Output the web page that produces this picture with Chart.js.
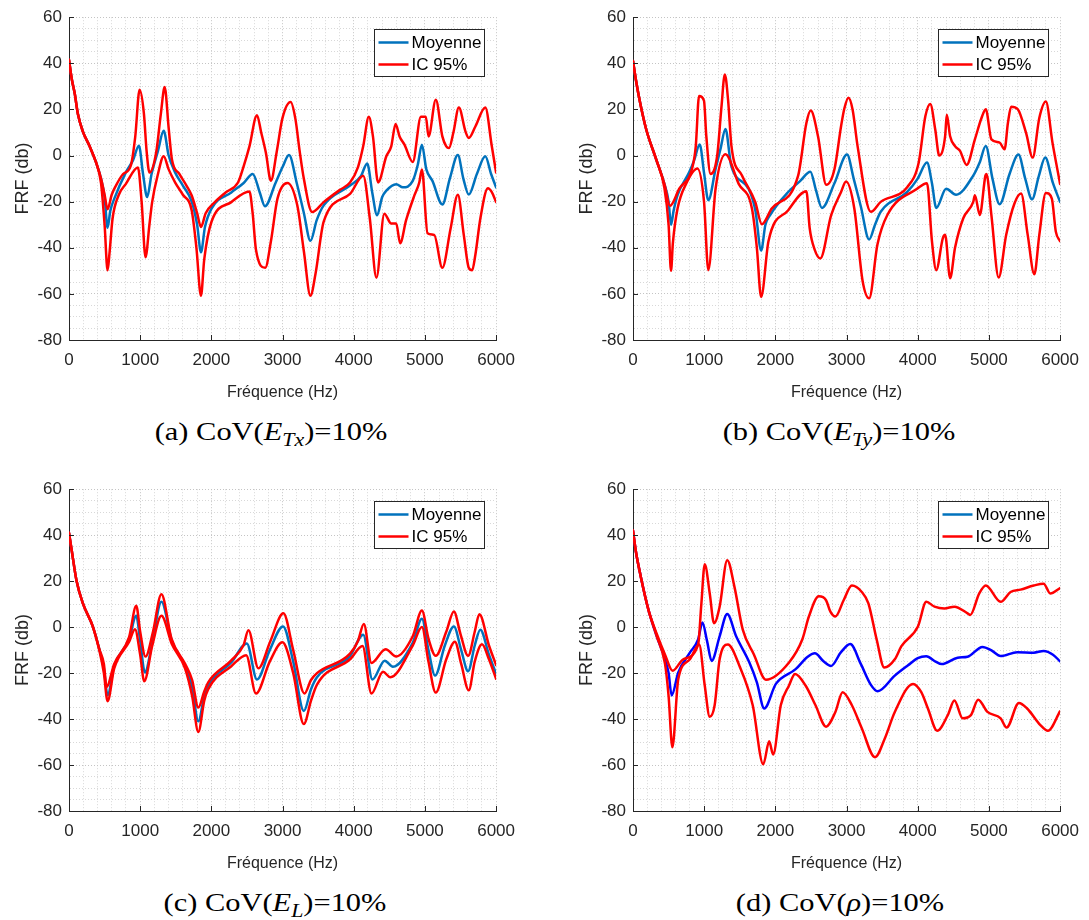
<!DOCTYPE html>
<html>
<head>
<meta charset="utf-8">
<script src="https://cdn.jsdelivr.net/npm/chart.js@4.4.1/dist/chart.umd.min.js"></script>
<style>
html,body{margin:0;padding:0;background:#fff;}
#fig{position:relative;width:1089px;height:920px;overflow:hidden;background:#fff;}
canvas{position:absolute;}
.cap{position:absolute;font-family:'Liberation Serif','Times New Roman',serif;font-size:26px;color:#000;white-space:nowrap;transform:translate(-50%,-50%) scaleX(1.17);}
.cap sub{font-size:0.72em;vertical-align:-0.3em;line-height:0;}
</style>
</head>
<body>
<div id="fig">
<canvas id="ca" width="525" height="410" style="left:0px;top:0px;width:525px;height:410px"></canvas>
<canvas id="cb" width="525" height="410" style="left:564px;top:0px;width:525px;height:410px"></canvas>
<canvas id="cc" width="525" height="409" style="left:0px;top:472px;width:525px;height:409px"></canvas>
<canvas id="cd" width="525" height="409" style="left:564px;top:472px;width:525px;height:409px"></canvas>
<div class="cap" style="left:271px;top:432px">(a) CoV(<i>E</i><sub><i>Tx</i></sub>)=10%</div>
<div class="cap" style="left:839px;top:432px">(b) CoV(<i>E</i><sub><i>Ty</i></sub>)=10%</div>
<div class="cap" style="left:275px;top:903px">(c) CoV(<i>E</i><sub><i>L</i></sub>)=10%</div>
<div class="cap" style="left:840px;top:903px">(d) CoV(<i>ρ</i>)=10%</div>
</div>
<script>
// ---------- axes / labels ----------
const xTicks = [0, 1000, 2000, 3000, 4000, 5000, 6000];
const yTicks = [-80, -60, -40, -20, 0, 20, 40, 60];
const xTitle = 'Fréquence (Hz)';
const yTitle = 'FRF (db)';
const legendLabels = ['Moyenne', 'IC 95%'];

// ---------- (a) CoV(E_Tx) : [Hz, dB] ----------
const aMean = [[0,41.5],[40,33],[80,27],[125,18],[195,10.4],[290,4],[380,-3],[450,-10],[500,-18],[542,-31.3],[580,-24],[635,-18.8],[797,-7.4],[900,-2],[982,4.3],[1040,-8],[1098,-18],[1160,-8],[1250,2],[1330,10.7],[1400,0],[1492,-7.4],[1600,-13],[1724,-20],[1800,-30],[1854,-41.9],[1910,-31],[2002,-23],[2280,-16],[2450,-12],[2581,-8],[2680,-16],[2753,-22],[2900,-12],[3000,-5],[3091,0.2],[3200,-12],[3300,-25],[3392,-37],[3480,-28],[3578,-21.6],[3948,-13],[4100,-9],[4189,-3.4],[4260,-16],[4328,-25.9],[4400,-18],[4458,-15.2],[4597,-12.4],[4690,-13.8],[4829,-11],[4900,-4],[4958,4.7],[5020,-6],[5106,-11],[5245,-21.2],[5350,-10],[5463,0.2],[5540,-10],[5616,-16.9],[5730,-8],[5848,-0.3],[5930,-8],[6000,-13.8]];
const aUp = [[0,41.5],[40,33],[80,27],[125,18],[195,10.4],[290,4],[380,-3],[450,-10],[500,-17],[542,-23.3],[600,-17],[660,-13],[760,-8],[867,-4.5],[930,8],[992,28.5],[1052,18.3],[1090,2],[1131,-7.4],[1224,1.2],[1290,18],[1344,29.7],[1400,12],[1446,-1.7],[1550,-8],[1650,-13],[1724,-17.3],[1800,-25],[1854,-31],[1920,-25],[2049,-20.2],[2200,-16],[2374,-11.7],[2450,-5],[2535,4],[2641,17.5],[2700,10],[2766,1.2],[2836,-10.9],[2920,2],[2998,16.1],[3114,23.2],[3180,16],[3240,2],[3300,-10.2],[3415,-24.5],[3578,-20.2],[3800,-15],[3948,-11.7],[4060,-5],[4133,4],[4212,16.8],[4270,8.3],[4342,-11.7],[4458,-0.3],[4527,4],[4588,13.7],[4644,8.3],[4713,4.7],[4829,-2.8],[4944,16.8],[5013,16.8],[5051,8.3],[5153,24.2],[5245,8.3],[5300,4],[5338,3.3],[5400,10],[5477,20.8],[5570,10.4],[5616,7.6],[5709,12.6],[5848,20.8],[5940,4],[6000,-7.4]];
const aLo = [[0,41.5],[40,33],[80,27],[125,18],[195,10.4],[290,4],[380,-3],[450,-12],[500,-30],[542,-49.8],[570,-42],[612,-27.3],[700,-17],[797,-12.4],[968,-5.2],[1020,-20],[1075,-44.1],[1130,-30],[1168,-20.2],[1250,-8],[1330,-0.3],[1400,-6],[1492,-11.7],[1600,-17],[1724,-23.8],[1790,-40],[1854,-60.8],[1900,-45],[2002,-28.7],[2280,-20.2],[2535,-15.6],[2580,-25],[2627,-40.9],[2757,-48.7],[2836,-37.3],[2928,-18.8],[3068,-11.9],[3207,-21.6],[3300,-41.6],[3392,-60.8],[3462,-51.5],[3578,-28.7],[3948,-16.6],[4133,-8.8],[4226,-27.3],[4319,-53],[4430,-25.2],[4527,-29.5],[4597,-29.5],[4652,-38],[4736,-28],[4852,-17.3],[4921,-11.7],[4958,-6],[5037,-33.7],[5130,-34.4],[5245,-48.7],[5361,-31.6],[5463,-17],[5546,-34.4],[5616,-48.7],[5663,-49.8],[5709,-43],[5779,-27.3],[5885,-14.2],[5940,-15.9],[6000,-20.2]];

// ---------- (b) CoV(E_Ty) ----------
const bMean = [[0,41],[40,33],[93,24],[186,11.3],[325,-1.6],[441,-12.3],[500,-20],[534,-30],[570,-24],[626,-17.2],[789,-7.3],[860,-2],[937,4.8],[1000,-8],[1058,-19.4],[1160,-5.8],[1230,3],[1299,11.5],[1380,-4.4],[1624,-14.4],[1720,-24],[1800,-41.2],[1860,-30],[1926,-25.8],[2181,-15.8],[2350,-11],[2492,-7],[2570,-15],[2654,-22.7],[2830,-12],[3007,0.4],[3100,-10],[3200,-22],[3318,-36.4],[3400,-30],[3480,-24.4],[3852,-15.8],[4000,-10],[4130,-3],[4200,-12],[4260,-22.7],[4399,-14.4],[4538,-17],[4780,-8.7],[4870,-3],[4956,4.1],[5050,-10],[5151,-21.1],[5290,-8],[5415,0.4],[5510,-10],[5606,-19],[5700,-9],[5791,-0.9],[5900,-12],[6000,-20.1]];
const bUp = [[0,41],[40,33],[93,24],[186,11.3],[325,-1.6],[441,-12.3],[520,-21.8],[650,-14.4],[835,-5.1],[882,4.1],[928,25.8],[997,23.8],[1030,8.4],[1090,-8],[1183,0],[1243,21.2],[1290,35.2],[1336,24],[1383,4.1],[1531,-8.7],[1717,-20.1],[1810,-29.8],[1949,-23],[2320,-8.7],[2436,14.1],[2497,19.5],[2599,8.4],[2715,-12.7],[2831,-5.8],[2923,12.7],[2970,20.5],[3026,25.1],[3086,19.8],[3155,4.1],[3341,-24.4],[3480,-20.1],[3852,-13.7],[4014,-3],[4107,17],[4176,22.4],[4246,11.3],[4302,0],[4385,8.4],[4408,17.7],[4455,8.4],[4524,4.1],[4594,2],[4687,-4.1],[4803,7],[4896,16.3],[4956,20.1],[5035,7],[5151,5.6],[5220,2.7],[5267,14.1],[5313,21.2],[5406,20.1],[5522,9.8],[5615,-0.9],[5708,16.3],[5800,23.4],[5893,5.6],[6000,-12.3]];
const bLo = [[0,41],[40,33],[93,24],[186,11.3],[325,-1.6],[441,-14],[500,-30],[534,-50],[560,-38],[626,-23],[750,-12],[905,-5.6],[998,-20.1],[1058,-49.7],[1160,-14.4],[1299,0.6],[1485,-12.3],[1671,-23],[1740,-40],[1800,-61.3],[1903,-37.2],[2181,-23.7],[2436,-15.5],[2482,-31.5],[2552,-40.8],[2631,-44.6],[2784,-25.8],[2923,-15.8],[2993,-11.3],[3109,-23],[3225,-54.3],[3318,-61.9],[3434,-38.6],[3573,-25.8],[3991,-14.4],[4130,-12],[4200,-37.2],[4260,-49.7],[4353,-35.8],[4385,-34.4],[4455,-53.2],[4524,-40],[4640,-27.2],[4780,-20.1],[4803,-17.2],[4872,-25.8],[4951,-8.7],[4965,-8],[5035,-25.8],[5137,-52.9],[5243,-34.4],[5359,-20.8],[5452,-16.5],[5545,-34.4],[5638,-51.5],[5708,-34.4],[5800,-16.2],[5884,-18.7],[5940,-33],[6000,-37.2]];

// ---------- (c) CoV(E_L) ----------
const cMean = [[0,41],[40,33],[105,20.3],[195,10.3],[334,0.3],[426,-9.6],[490,-18],[542,-29.6],[635,-16.8],[843,-5.4],[945,4.9],[1000,-6],[1066,-19.7],[1170,-6.8],[1298,11],[1446,-6.1],[1631,-16.8],[1730,-26],[1817,-41],[1900,-30],[1956,-25.3],[2280,-15.4],[2498,-7.1],[2641,-22.8],[2820,-10],[3007,0.3],[3150,-15],[3299,-36.5],[3400,-27],[3484,-21.8],[3948,-12.6],[4133,-3.3],[4263,-22.8],[4435,-14.6],[4550,-17.2],[4829,-6.8],[4958,3.6],[5050,-10],[5143,-21.1],[5280,-8],[5407,0.3],[5510,-10],[5607,-19.2],[5700,-8],[5778,-1.1],[5900,-12],[6000,-20.3]];
const cUp = [[0,41],[40,33],[105,20.3],[195,10.3],[334,0.3],[426,-9.6],[490,-16],[528,-26],[635,-16],[843,-4.5],[945,9.3],[1000,-2],[1075,-12.8],[1180,-2],[1298,14.3],[1440,-5],[1631,-16],[1730,-23],[1817,-35],[1900,-28],[1956,-24],[2280,-14.5],[2450,-8],[2521,-1.4],[2660,-17.9],[2830,-6],[3012,6],[3150,-10],[3308,-28.9],[3400,-23],[3484,-20],[3948,-11.5],[4060,-6],[4142,1.4],[4249,-15.6],[4448,-9.6],[4597,-12.8],[4829,-4],[4958,7.2],[5050,-5],[5152,-12.5],[5300,-2],[5407,6.8],[5500,-3],[5607,-12.5],[5700,-2],[5765,5.6],[5900,-8],[6000,-16.5]];
const cLo = [[0,41],[40,33],[105,20.3],[195,10.3],[334,0.3],[426,-10],[490,-20],[542,-32.2],[635,-18],[843,-6.5],[927,-0.9],[1000,-12],[1057,-23.6],[1170,-8],[1298,4.9],[1446,-7.5],[1631,-18],[1730,-30],[1817,-45.6],[1900,-32],[1956,-27],[2280,-17],[2489,-12.2],[2627,-28.9],[2820,-15],[2998,-6.6],[3150,-20],[3299,-42.2],[3400,-32],[3484,-25],[3948,-14],[4124,-8.2],[4249,-28.9],[4411,-19.4],[4513,-21.8],[4829,-8],[4958,0],[5050,-15],[5152,-28.5],[5300,-14],[5421,-6.4],[5510,-16],[5616,-27.5],[5700,-15],[5802,-7.5],[5900,-14],[6000,-22.5]];

// ---------- (d) CoV(rho) ----------
const dMean = [[0,42],[40,33],[102,23],[218,7.4],[334,-4],[450,-14],[500,-20],[543,-29.7],[636,-19.7],[799,-11.1],[915,-5.4],[975,2],[1040,-6],[1105,-14.7],[1217,-4],[1324,5.7],[1449,-4],[1635,-15.4],[1740,-24],[1844,-35.4],[2007,-24.7],[2285,-18.3],[2450,-13],[2555,-11.4],[2680,-15],[2782,-16.9],[2920,-11],[3052,-7.4],[3200,-16],[3340,-25],[3437,-27.9],[3678,-21.1],[3864,-16.6],[4000,-13.5],[4120,-12.7],[4250,-15],[4338,-16.1],[4561,-13.3],[4700,-12.9],[4910,-8.6],[5030,-10],[5165,-12.6],[5397,-10.9],[5630,-11.1],[5769,-10.4],[5900,-12],[6000,-14.9]];
const dUp = [[0,42],[40,33],[102,23],[218,7.4],[334,-3],[450,-12],[557,-19],[706,-14],[915,-7.6],[960,10],[1008,27.4],[1078,14.6],[1138,1.7],[1217,8.9],[1324,29.1],[1426,17.4],[1542,-1.1],[1700,-12],[1867,-22.9],[2192,-15.4],[2378,-5.4],[2471,4.6],[2610,13.4],[2712,11.7],[2773,6.7],[2843,4.6],[2959,11.7],[3075,18.1],[3214,15.3],[3307,10.3],[3423,-5.4],[3530,-17.6],[3678,-14],[3771,-8.3],[4003,0.3],[4120,11],[4236,8.9],[4375,8.1],[4515,8.9],[4700,6],[4738,5.3],[4863,14.6],[4956,18.1],[5165,11],[5304,15.3],[5444,16.3],[5630,18.1],[5769,18.9],[5862,14.6],[6000,17]];
const dLo = [[0,42],[40,33],[102,23],[218,7.4],[334,-4],[450,-16],[500,-30],[553,-52.3],[636,-22.6],[799,-14],[929,-7.6],[1008,-25.4],[1078,-39],[1147,-34],[1217,-14],[1333,-7.6],[1496,-16.9],[1682,-34],[1830,-59.7],[1913,-49.7],[1969,-55.4],[2076,-34],[2192,-25.4],[2276,-20.4],[2424,-25.4],[2564,-34],[2712,-43.3],[2843,-36.9],[2945,-28.3],[3075,-34],[3214,-44],[3400,-56.6],[3539,-48.3],[3678,-36.9],[3934,-24.7],[4050,-28.3],[4143,-35.4],[4273,-45.1],[4422,-38.3],[4515,-31.9],[4631,-39.7],[4747,-38.3],[4849,-31.6],[4979,-36.9],[5165,-39.7],[5249,-43.7],[5421,-33],[5537,-35.4],[5723,-42.6],[5829,-45.1],[6000,-36.6]];

// ---------- style ----------
const TXT = '#262626';
const RED = '#FF0000';
const MBLUE = '#0072BD';
const PBLUE = '#0000FF';
const FAM = "'Liberation Sans', Arial, Helvetica, sans-serif";
Chart.defaults.font.family = FAM;
Chart.defaults.font.size = 17;
Chart.defaults.color = TXT;

const toXY = a => a.map(p => ({x: p[0], y: p[1]}));

const innerTicks = {
  id: 'innerTicks',
  afterDraw(chart) {
    const {ctx, chartArea: a, scales: {x, y}} = chart;
    ctx.save();
    ctx.strokeStyle = TXT; ctx.lineWidth = 1;
    ctx.beginPath();
    xTicks.forEach(v => { if (v === xTicks[0]) return; const px = Math.round(x.getPixelForValue(v)) + 0.5; ctx.moveTo(px, a.bottom); ctx.lineTo(px, a.bottom - 5); });
    yTicks.forEach(v => { if (v === yTicks[0]) return; const py = Math.round(y.getPixelForValue(v)) + 0.5; ctx.moveTo(a.left, py); ctx.lineTo(a.left + 5, py); });
    ctx.stroke();
    ctx.restore();
  }
};

const boxLegend = {
  id: 'boxLegend',
  afterDraw(chart, args, opts) {
    const {ctx, chartArea: a} = chart;
    const w = 110, h = 47;
    const left = Math.round(a.right - 12 - w) + 0.5, top = Math.round(a.top + 12) + 0.5;
    ctx.save();
    ctx.fillStyle = '#fff';
    ctx.fillRect(left, top, w, h);
    ctx.strokeStyle = TXT; ctx.lineWidth = 1;
    ctx.strokeRect(left, top, w, h);
    ctx.font = "17px " + FAM;
    ctx.textBaseline = 'middle';
    ctx.textAlign = 'left';
    opts.labels.forEach((lab, i) => {
      const yy = top + 13 + i * 22;
      ctx.strokeStyle = opts.colors[i]; ctx.lineWidth = 2.5;
      ctx.beginPath(); ctx.moveTo(left + 4, yy); ctx.lineTo(left + 34, yy); ctx.stroke();
      ctx.fillStyle = '#000';
      ctx.fillText(lab, left + 37, yy + 1);
    });
    ctx.restore();
  }
};

const gridColor = (major) => (c) => (c.tick && Math.abs(c.tick.value % major) < 1e-9) ? '#c4c4c4' : '#d8d8d8';

function build(id, mean, up, lo, meanColor, legendMeanColor, padRight) {
  return new Chart(document.getElementById(id), {
    type: 'line',
    data: {
      datasets: [
        {label: legendLabels[0], data: toXY(mean), borderColor: meanColor, backgroundColor: meanColor, order: 2},
        {label: legendLabels[1], data: toXY(up), borderColor: RED, backgroundColor: RED, order: 1},
        {label: legendLabels[1], data: toXY(lo), borderColor: RED, backgroundColor: RED, order: 1}
      ]
    },
    options: {
      responsive: false, animation: false, devicePixelRatio: 1,
      layout: {padding: {left: 0, top: 12, right: padRight, bottom: 0}},
      elements: {point: {radius: 0}, line: {borderWidth: 2.5, cubicInterpolationMode: 'monotone', fill: false, borderCapStyle: 'round', borderJoinStyle: 'round'}},
      plugins: {
        legend: {display: false}, tooltip: {enabled: false},
        boxLegend: {labels: legendLabels, colors: [legendMeanColor, RED]}
      },
      scales: {
        x: {
          type: 'linear', min: xTicks[0], max: xTicks[xTicks.length - 1],
          afterFit: s => { s.height = 70; },
          ticks: {stepSize: 200, autoSkip: false, maxRotation: 0, padding: 10, color: TXT, font: {size: 17},
                  callback: v => xTicks.includes(v) ? String(v) : ''},
          grid: {drawTicks: false, color: gridColor(1000), lineWidth: 1},
          border: {display: true, color: TXT, width: 1, dash: [1, 2]},
          title: {display: true, text: xTitle, color: TXT, font: {size: 16}, padding: {top: 0, bottom: 8}}
        },
        y: {
          type: 'linear', min: yTicks[0], max: yTicks[yTicks.length - 1],
          afterFit: s => { s.width = 69; },
          ticks: {stepSize: 5, autoSkip: false, padding: 7, color: TXT, font: {size: 17},
                  callback: v => yTicks.includes(v) ? String(v) : ''},
          grid: {drawTicks: false, color: gridColor(20), lineWidth: 1},
          border: {display: true, color: TXT, width: 1, dash: [1, 2]},
          title: {display: true, text: yTitle, color: TXT, font: {size: 18}, padding: {top: 12, bottom: 0}}
        }
      }
    },
    plugins: [innerTicks, boxLegend]
  });
}

build('ca', aMean, aUp, aLo, MBLUE, MBLUE, 24);
build('cb', bMean, bUp, bLo, MBLUE, MBLUE, 25);
build('cc', cMean, cUp, cLo, MBLUE, MBLUE, 24);
build('cd', dMean, dUp, dLo, PBLUE, MBLUE, 25);
</script>
</body>
</html>
